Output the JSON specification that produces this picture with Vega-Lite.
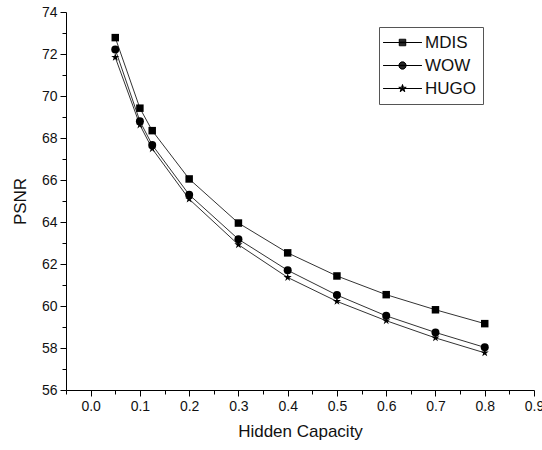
{
  "$schema": "https://vega.github.io/schema/vega-lite/v6.json",
  "width": 468,
  "height": 378,
  "autosize": {"type": "none"},
  "padding": {"left": 66, "top": 12, "right": 8, "bottom": 60},
  "config": {
    "view": {"stroke": null},
    "font": "Liberation Sans",
    "axis": {"grid": false, "domainColor": "#000", "tickColor": "#000", "labelColor": "#111", "titleColor": "#111", "labelFont": "Liberation Sans", "titleFont": "Liberation Sans", "titleFontWeight": "normal", "labelFontSize": 14, "titleFontSize": 17}
  },
  "data": {"values": [
    {"x": 0.05, "y": 72.78, "series": "MDIS"},
    {"x": 0.1, "y": 69.42, "series": "MDIS"},
    {"x": 0.125, "y": 68.35, "series": "MDIS"},
    {"x": 0.2, "y": 66.05, "series": "MDIS"},
    {"x": 0.3, "y": 63.95, "series": "MDIS"},
    {"x": 0.4, "y": 62.53, "series": "MDIS"},
    {"x": 0.5, "y": 61.43, "series": "MDIS"},
    {"x": 0.6, "y": 60.54, "series": "MDIS"},
    {"x": 0.7, "y": 59.82, "series": "MDIS"},
    {"x": 0.8, "y": 59.16, "series": "MDIS"},
    {"x": 0.05, "y": 72.22, "series": "WOW"},
    {"x": 0.1, "y": 68.8, "series": "WOW"},
    {"x": 0.125, "y": 67.67, "series": "WOW"},
    {"x": 0.2, "y": 65.3, "series": "WOW"},
    {"x": 0.3, "y": 63.18, "series": "WOW"},
    {"x": 0.4, "y": 61.7, "series": "WOW"},
    {"x": 0.5, "y": 60.52, "series": "WOW"},
    {"x": 0.6, "y": 59.53, "series": "WOW"},
    {"x": 0.7, "y": 58.74, "series": "WOW"},
    {"x": 0.8, "y": 58.03, "series": "WOW"},
    {"x": 0.05, "y": 71.84, "series": "HUGO"},
    {"x": 0.1, "y": 68.62, "series": "HUGO"},
    {"x": 0.125, "y": 67.49, "series": "HUGO"},
    {"x": 0.2, "y": 65.09, "series": "HUGO"},
    {"x": 0.3, "y": 62.92, "series": "HUGO"},
    {"x": 0.4, "y": 61.36, "series": "HUGO"},
    {"x": 0.5, "y": 60.22, "series": "HUGO"},
    {"x": 0.6, "y": 59.3, "series": "HUGO"},
    {"x": 0.7, "y": 58.48, "series": "HUGO"},
    {"x": 0.8, "y": 57.77, "series": "HUGO"}
  ]},
  "layer": [
    {
      "mark": {"type": "line", "color": "#333", "strokeWidth": 1},
      "encoding": {
        "x": {"field": "x", "type": "quantitative", "title": "Hidden Capacity",
              "scale": {"domain": [-0.05, 0.9], "nice": false, "zero": false},
              "axis": {"orient": "bottom", "values": [0, 0.1, 0.2, 0.3, 0.4, 0.5, 0.6, 0.7, 0.8, 0.9], "format": ".1f", "tickSize": 6, "labelPadding": 3, "titlePadding": 10, "labelFlush": false}},
        "y": {"field": "y", "type": "quantitative", "title": "PSNR",
              "scale": {"domain": [56, 74], "nice": false, "zero": false},
              "axis": {"orient": "left", "values": [56, 58, 60, 62, 64, 66, 68, 70, 72, 74], "tickSize": 6, "labelPadding": 3, "titlePadding": 12, "labelFlush": false}},
        "detail": {"field": "series", "type": "nominal"}
      }
    },
    {
      "transform": [{"filter": "datum.series === 'MDIS'"}],
      "mark": {"type": "point", "filled": true, "color": "#000", "opacity": 1, "size": 56, "shape": "square"},
      "encoding": {
        "x": {"field": "x", "type": "quantitative", "axis": null},
        "y": {"field": "y", "type": "quantitative", "axis": null}
      }
    },
    {
      "transform": [{"filter": "datum.series === 'WOW'"}],
      "mark": {"type": "point", "filled": true, "color": "#000", "opacity": 1, "size": 64, "shape": "circle"},
      "encoding": {
        "x": {"field": "x", "type": "quantitative", "axis": null},
        "y": {"field": "y", "type": "quantitative", "axis": null}
      }
    },
    {
      "transform": [{"filter": "datum.series === 'HUGO'"}],
      "mark": {"type": "point", "filled": true, "color": "#000", "opacity": 1, "size": 60, "shape": "M0,-1.1L0.247,-0.34L1.046,-0.34L0.4,0.13L0.647,0.89L0,0.42L-0.647,0.89L-0.4,0.13L-1.046,-0.34L-0.247,-0.34Z"},
      "encoding": {
        "x": {"field": "x", "type": "quantitative", "axis": null},
        "y": {"field": "y", "type": "quantitative", "axis": null}
      }
    },
    {
      "mark": {"type": "point", "filled": false, "color": "#000", "strokeWidth": 1, "opacity": 0, "size": 42},
      "encoding": {
        "x": {"field": "x", "type": "quantitative",
              "axis": {"orient": "bottom", "values": [-0.05, 0.05, 0.15, 0.25, 0.35, 0.45, 0.55, 0.65, 0.75, 0.85], "labels": false, "domain": false, "tickSize": 4, "title": null}},
        "y": {"field": "y", "type": "quantitative",
              "axis": {"orient": "left", "values": [57, 59, 61, 63, 65, 67, 69, 71, 73], "labels": false, "domain": false, "tickSize": 4, "title": null}},
        "shape": {"field": "series", "type": "nominal",
                  "scale": {"domain": ["MDIS", "WOW", "HUGO"], "range": [
                    "M-6,0L6,0M-1,-1L1,-1L1,1L-1,1ZM-1,-0.75L1,-0.75M-1,-0.5L1,-0.5M-1,-0.25L1,-0.25M-1,0.25L1,0.25M-1,0.5L1,0.5M-1,0.75L1,0.75",
                    "M-6,0L6,0M-1.1,0A1.1,1.1 0 1,0 1.1,0A1.1,1.1 0 1,0 -1.1,0M-0.458,-1L0.458,-1M-0.805,-0.75L0.805,-0.75M-0.98,-0.5L0.98,-0.5M-1.071,-0.25L1.071,-0.25M-1.071,0.25L1.071,0.25M-0.98,0.5L0.98,0.5M-0.805,0.75L0.805,0.75M-0.458,1L0.458,1",
                    "M-6,0L6,0M0,-1.2L0.27,-0.37L1.14,-0.37L0.44,0.14L0.7,0.97L0,0.46L-0.7,0.97L-0.44,0.14L-1.14,-0.37L-0.27,-0.37ZM-0.1,-0.9L0.1,-0.9M-0.2,-0.6L0.2,-0.6M-0.84,-0.15L0.84,-0.15M-0.5,0.1L0.5,0.1M-0.49,0.3L0.49,0.3M0.12,0.55L0.57,0.55M-0.57,0.55L-0.12,0.55M0.47,0.8L0.65,0.8M-0.65,0.8L-0.47,0.8M0,-1.2L0,0.46"
                  ]},
                  "legend": {"orient": "none", "legendX": 313, "legendY": 15, "title": null,
                             "strokeColor": "#555", "padding": 7, "labelFontSize": 17, "labelFont": "Liberation Sans", "labelColor": "#111",
                             "symbolSize": 42, "rowPadding": 5, "labelOffset": 14, "symbolOffset": 8,
                             "symbolStrokeWidth": 1}}
      }
    }
  ],
  "resolve": {"axis": {"x": "independent", "y": "independent"}}
}
